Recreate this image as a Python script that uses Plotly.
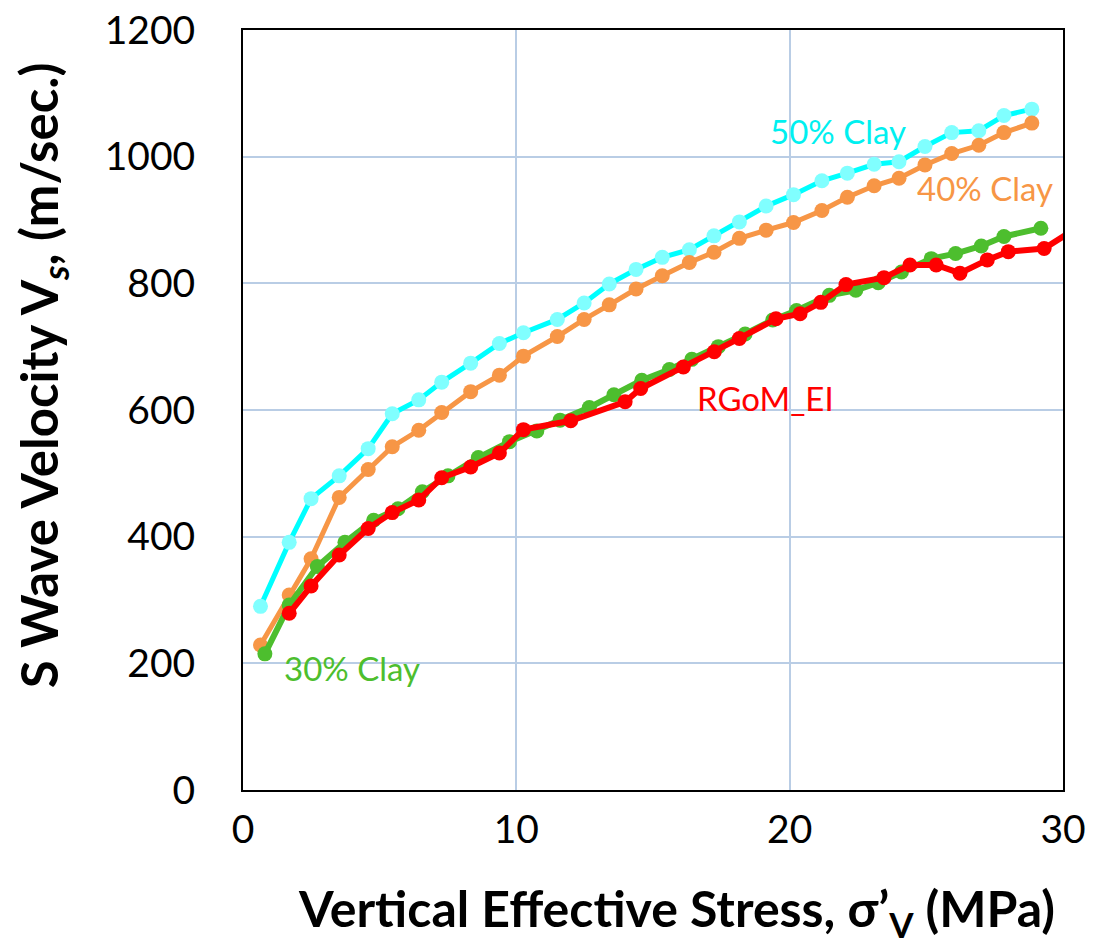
import plotly.graph_objects as go

# shared stress steps for the 50% / 40% clay series (MPa)
stress = [0.64, 1.69, 2.49, 3.52, 4.58, 5.46, 6.43, 7.27, 8.33, 9.38,
          10.26, 11.50, 12.48, 13.40, 14.38, 15.34, 16.33, 17.23, 18.16, 19.14,
          20.14, 21.18, 22.11, 23.09, 24.00, 24.95, 25.93, 26.92, 27.84, 28.86]

vs_50 = [290, 391, 460, 496, 539, 594, 616, 644, 674, 705,
         722, 743, 769, 799, 822, 841, 853, 875, 897, 922,
         940, 962, 974, 988, 992, 1016, 1038, 1041, 1065, 1075]

vs_40 = [229, 308, 365, 462, 506, 542, 568, 596, 629, 655,
         685, 716, 743, 766, 791, 812, 833, 849, 871, 884,
         896, 915, 936, 954, 966, 987, 1005, 1018, 1038, 1053]

stress_30 = [0.80, 1.69, 2.72, 3.73, 4.78, 5.67, 6.56, 7.50, 8.61, 9.75,
             10.75, 11.60, 12.67, 13.57, 14.59, 15.60, 16.42, 17.39, 18.37, 19.38,
             20.25, 21.45, 22.42, 23.24, 24.09, 25.18, 26.07, 27.01, 27.84, 29.19]
vs_30 = [215, 292, 353, 391, 426, 444, 471, 496, 525, 550,
         567, 584, 604, 624, 647, 664, 680, 700, 720, 742,
         757, 781, 789, 801, 818, 839, 847, 859, 874, 887]

stress_rgom = [1.69, 2.49, 3.52, 4.58, 5.46, 6.43, 7.27, 8.33, 9.38, 10.26,
               11.99, 13.98, 14.55, 16.11, 17.24, 18.16, 19.50, 20.38, 21.14, 22.06,
               23.45, 24.40, 25.36, 26.23, 27.23, 28.00, 29.31, 30.30]
vs_rgom = [279, 322, 371, 413, 438, 458, 493, 510, 532, 569,
           583, 613, 634, 668, 692, 713, 744, 752, 770, 798,
           809, 829, 829, 816, 837, 850, 855, 882]

labels = ["50% Clay", "40% Clay", "RGoM_EI", "30% Clay"]
label_x = [21.77, 27.15, 19.1, 3.99]
label_y = [1040, 950, 619, 193]
label_col = ["#00F0F0", "#F79646", "#FF0000", "#4DBE2E"]

fig = go.Figure()

fig.add_trace(go.Scatter(x=stress, y=vs_50, mode="lines+markers",
                         line=dict(color="#00FFFF", width=5),
                         marker=dict(color="#80FFFF", size=15)))
fig.add_trace(go.Scatter(x=stress, y=vs_40, mode="lines+markers",
                         line=dict(color="#F79646", width=5),
                         marker=dict(color="#F79646", size=15)))
fig.add_trace(go.Scatter(x=stress_30, y=vs_30, mode="lines+markers",
                         line=dict(color="#4DBE2E", width=6),
                         marker=dict(color="#4DBE2E", size=15)))
fig.add_trace(go.Scatter(x=stress_rgom, y=vs_rgom, mode="lines+markers",
                         line=dict(color="#FF0000", width=6),
                         marker=dict(color="#FF0000", size=15)))

for txt, xx, yy, col in zip(labels, label_x, label_y, label_col):
    fig.add_annotation(x=xx, y=yy, text=txt, showarrow=False,
                       font=dict(family="Lato", size=33, color=col))

# axis titles placed as annotations (the x title sits right of centre in the original)
fig.add_annotation(xref="paper", yref="paper", x=0.529, y=-0.1605, showarrow=False,
                   xanchor="center", yanchor="middle",
                   text="Vertical Effective Stress, σ’<sub>V</sub> (MPa)",
                   font=dict(family="Lato", size=50, color="black", weight="bold"))
fig.add_annotation(xref="paper", yref="paper", x=-0.245, y=0.546, showarrow=False,
                   xanchor="center", yanchor="middle",
                   textangle=-90, text="S Wave Velocity V<sub><i>s</i></sub>, (m/sec.)",
                   font=dict(family="Lato", size=51, color="black", weight="bold"))

fig.update_xaxes(range=[0, 30], dtick=10, showgrid=True, gridcolor="#B9CDE5", gridwidth=2,
                 showline=True, linecolor="black", linewidth=2, mirror=True,
                 zeroline=False, ticks="", ticklabelstandoff=4, automargin=False,
                 ticklabeloverflow="allow",
                 tickfont=dict(family="Lato", size=39, color="black"))
fig.update_yaxes(range=[0, 1200], dtick=200, showgrid=True, gridcolor="#B9CDE5", gridwidth=2,
                 showline=True, linecolor="black", linewidth=2, mirror=True,
                 zeroline=False, ticks="", ticklabelstandoff=38, automargin=False,
                 ticklabeloverflow="allow",
                 tickfont=dict(family="Lato", size=39, color="black"))

# page body adds an 8px offset, so the figure is trimmed to keep the plot box in place
fig.update_layout(width=1087, height=937, showlegend=False,
                  plot_bgcolor="white", paper_bgcolor="white",
                  margin=dict(l=235, r=32, t=22, b=155))

fig.write_html("out.html")
